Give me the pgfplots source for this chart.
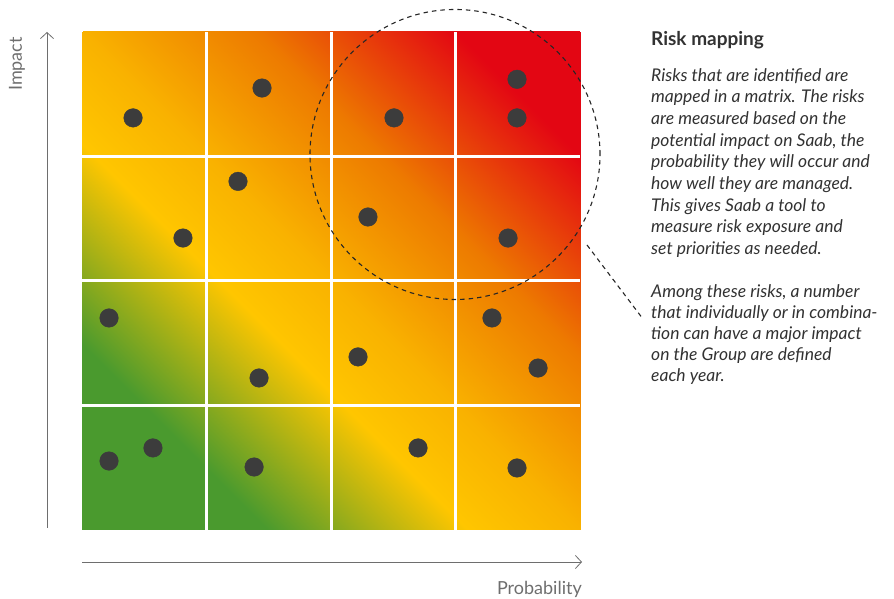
\documentclass[border=0pt]{standalone}
\usepackage{pgfplots}
\pgfplotsset{compat=1.18}
\usepackage{fontspec}
\setmainfont{Lato}
\usetikzlibrary{arrows.meta}
\definecolor{dot}{RGB}{60,60,60}
\definecolor{txt}{RGB}{50,50,50}
\definecolor{lbl}{RGB}{110,110,110}
\begin{document}
\begin{tikzpicture}[x=1pt,y=1pt]
\useasboundingbox (0,0) rectangle (894,599);
\begin{axis}[
  at={(82pt,69pt)}, anchor=south west,
  width=498pt, height=498pt, scale only axis,
  xmin=0, xmax=4, ymin=0, ymax=4,
  hide axis,
  colormap={risk}{rgb255(0cm)=(74,154,46); rgb255(1.5cm)=(74,154,46); rgb255(3.1cm)=(255,198,0); rgb255(4cm)=(249,178,0); rgb255(5.4cm)=(237,122,0); rgb255(7cm)=(227,6,19); rgb255(8cm)=(227,6,19)},
  point meta min=0, point meta max=8,
]
% gradient strips along lines of equal x+y (meta = x+y)
\addplot[surf, shader=interp, mesh/rows=7, mesh/cols=2, point meta=explicit] table[meta=m] {
x y m
-2 2 0
2 -2 0
-1.25 2.75 1.5
2.75 -1.25 1.5
-0.45 3.55 3.1
3.55 -0.45 3.1
0 4 4
4 0 4
0.7 4.7 5.4
4.7 0.7 5.4
1.5 5.5 7
5.5 1.5 7
2 6 8
6 2 8
};
\addplot[white, line width=3pt] coordinates {(1,0) (1,4)};
\addplot[white, line width=3pt] coordinates {(2,0) (2,4)};
\addplot[white, line width=3pt] coordinates {(3,0) (3,4)};
\addplot[white, line width=3pt] coordinates {(0,1) (4,1)};
\addplot[white, line width=3pt] coordinates {(0,2) (4,2)};
\addplot[white, line width=3pt] coordinates {(0,3) (4,3)};
\addplot[only marks, mark=*, mark size=9.3pt, color=dot] coordinates {
(0.41,3.31) (1.446,3.55) (2.506,3.31) (3.494,3.62) (3.494,3.31)
(1.253,2.80) (0.811,2.345) (2.297,2.514) (3.422,2.345)
(0.217,1.703) (1.422,1.221) (2.217,1.39) (3.293,1.703) (3.663,1.301)
(0.217,0.554) (0.570,0.659) (1.382,0.506) (2.699,0.659) (3.494,0.498)
};
\end{axis}
\draw[black!85, line width=1.1pt, dash pattern=on 4.5pt off 4pt] (455,444.5) circle[radius=145];
\draw[black!85, line width=1.1pt, dash pattern=on 4.5pt off 4pt] (587,354) -- (643,280);
\draw[lbl, line width=0.8pt, -{Straight Barb[length=6pt,width=13pt]}] (47,71) -- (47,567);
\draw[lbl, line width=0.8pt, -{Straight Barb[length=6pt,width=13pt]}] (82,37) -- (582,37);
\node[lbl, rotate=90, font=\fontsize{18}{20}\selectfont] at (17,535) {Impact};
\node[lbl, anchor=east, font=\fontsize{18}{20}\selectfont, inner sep=0pt] at (582,10) {Probability};
\node[txt, anchor=west, inner sep=0pt, font=\fontsize{19}{22}\selectfont\bfseries] at (651,559) {Risk mapping};
\node[txt, anchor=north west, inner sep=0pt, align=left, font=\fontsize{17.5}{21.7}\selectfont\itshape] at (651,531) {Risks that are identified are\\mapped in a matrix. The risks\\are measured based on the\\potential impact on Saab, the\\probability they will occur and\\how well they are managed.\\This gives Saab a tool to\\measure risk exposure and\\set priorities as needed.};
\node[txt, anchor=north west, inner sep=0pt, align=left, font=\fontsize{17.5}{21.1}\selectfont\itshape] at (651,315) {Among these risks, a number\\that individually or in combina-\\tion can have a major impact\\on the Group are defined\\each year.};
\end{tikzpicture}
\end{document}
